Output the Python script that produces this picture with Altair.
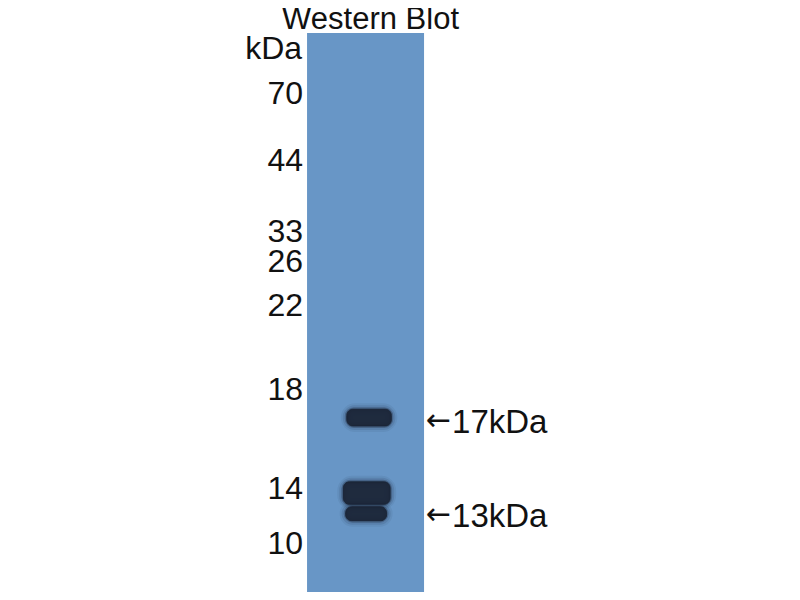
import pandas as pd
import altair as alt

# marker ladder (kDa) and where each label sits, in % of lane length from the top
marker_kda = [70, 44, 33, 26, 22, 18, 14, 10]
marker_pos = [10.9, 22.9, 35.6, 41.0, 48.8, 63.9, 81.6, 91.4]

# bands seen in the sample lane: migration and thickness (% of lane),
# left/right ends across the lane (0 = left edge, 1 = right edge)
band_pos = [68.8, 82.3, 86.0]
band_thick = [3.0, 4.0, 2.5]
band_left = [0.34, 0.31, 0.33]
band_right = [0.72, 0.71, 0.68]

# labelled bands on the right
annot_text = ["17kDa", "13kDa"]
annot_pos = [69.8, 86.6]

title_text = "Western Blot"
unit_text = "kDa"

FONT = "Liberation Sans"
LANE = "#6896c6"
BAND = "#1b2536"
INK = "#111111"

lane = pd.DataFrame({"x": [0], "x2": [1], "y": [0], "y2": [100]})
bands = pd.DataFrame({
    "x": band_left,
    "x2": band_right,
    "y": [p - t / 2 for p, t in zip(band_pos, band_thick)],
    "y2": [p + t / 2 for p, t in zip(band_pos, band_thick)],
})
markers = pd.DataFrame({"x": 0, "y": marker_pos, "label": [str(k) for k in marker_kda]})
annots = pd.DataFrame({"x": 1, "y": annot_pos, "label": annot_text, "arrow": "←"})
header = pd.DataFrame({"x": [0.5, 0], "y": [0, 0], "label": [title_text, unit_text]})

xs = alt.Scale(domain=[-2.556, 4.145], nice=False, zero=False)
ys = alt.Scale(domain=[-4.47, 100], nice=False, zero=False, reverse=True)
X = alt.X("x:Q", scale=xs, axis=None)
Y = alt.Y("y:Q", scale=ys, axis=None)

lane_rect = alt.Chart(lane).mark_rect(color=LANE).encode(x=X, x2="x2:Q", y=Y, y2="y2:Q")


def band_layer(width, opacity, radius):
    # a soft ring around each band, stacked to fake the blur of the film
    return alt.Chart(bands).mark_rect(
        fill=BAND, fillOpacity=opacity, stroke=BAND, strokeWidth=width,
        strokeOpacity=opacity, strokeJoin="round", cornerRadius=radius
    ).encode(x=X, x2="x2:Q", y=Y, y2="y2:Q")


band_marks = [
    band_layer(12, 0.07, 9),
    band_layer(8, 0.12, 8),
    band_layer(4, 0.3, 7),
    band_layer(1, 0.9, 6),
]

marker_text = alt.Chart(markers).mark_text(
    align="right", baseline="middle", dx=-4, font=FONT, fontSize=32, color=INK
).encode(x=X, y=Y, text="label:N")

annot_arrow = alt.Chart(annots).mark_text(
    align="left", baseline="middle", dx=2, dy=-2, font="DejaVu Sans", fontSize=30, color=INK
).encode(x=X, y=Y, text="arrow:N")

annot_labels = alt.Chart(annots).mark_text(
    align="left", baseline="middle", dx=28, font=FONT, fontSize=33, color=INK
).encode(x=X, y=Y, text="label:N")

title_mark = alt.Chart(header.iloc[[0]]).mark_text(
    align="center", baseline="middle", dx=5, dy=-13, font=FONT, fontSize=31, color=INK
).encode(x=X, y=Y, text="label:N")

unit_mark = alt.Chart(header.iloc[[1]]).mark_text(
    align="right", baseline="middle", dx=-5, dy=16, font=FONT, fontSize=32, color=INK
).encode(x=X, y=Y, text="label:N")

chart = (
    alt.layer(lane_rect, *band_marks, marker_text, annot_arrow, annot_labels, title_mark, unit_mark)
    .properties(width=784, height=584, padding=0, autosize="none", background="white")
    .configure_view(stroke=None)
)

chart.save("out.html", embed_options={"renderer": "svg", "actions": False})
